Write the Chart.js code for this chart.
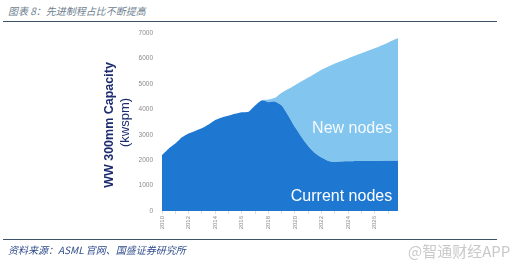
<!DOCTYPE html>
<html>
<head>
<meta charset="utf-8">
<script src="https://cdn.jsdelivr.net/npm/chart.js@4.4.0/dist/chart.umd.min.js"></script>
<style>
  body { margin: 0; background: #fff; width: 527px; height: 269px; overflow: hidden; position: relative; font-family: "Liberation Sans", Arial, sans-serif; }
  #wrap { position: absolute; left: 0; top: 0; width: 527px; height: 269px; }
  .titulo { position: absolute; left: 8px; top: 3px; font-size: 10px; font-style: italic; color: #6f7f90; font-family: "Noto Sans CJK SC", sans-serif; }
  .fuente { position: absolute; left: 8px; top: 242px; font-size: 10px; font-style: italic; color: #2f4c8c; font-family: "Noto Sans CJK SC", sans-serif; }
  .marca { position: absolute; left: 408px; top: 240px; font-size: 15px; color: #c9c9c9; font-family: "Noto Sans CJK SC", sans-serif; }
  .linea { position: absolute; left: 3px; width: 494px; height: 1px; background: #3d5266; }
</style>
</head>
<body>
<div class="titulo">图表 8：先进制程占比不断提高</div>
<div class="linea" style="top:21px"></div>
<div id="wrap"><canvas id="grafico" width="527" height="269"></canvas></div>
<div class="linea" style="top:239px"></div>
<div class="fuente">资料来源：ASML 官网、国盛证券研究所</div>
<div class="marca">@智通财经APP</div>
<script>
// Datos (kwspm)
var anios = [2010, 2010.5, 2011, 2011.5, 2012, 2012.5, 2013, 2013.5, 2014, 2014.5, 2015, 2015.5, 2016, 2016.5, 2017, 2017.5, 2018, 2018.5, 2019, 2019.5, 2020, 2020.5, 2021, 2021.5, 2022, 2022.5, 2023, 2023.5, 2024, 2025, 2026, 2027, 2027.75];
var nodosActuales = [2200, 2450, 2650, 2900, 3050, 3150, 3250, 3400, 3580, 3680, 3750, 3820, 3880, 3900, 4150, 4350, 4280, 4300, 4150, 3750, 3300, 2900, 2550, 2280, 2100, 1970, 1930, 1950, 1960, 1970, 1970, 1980, 1980];
var capacidadTotal = [2200, 2450, 2650, 2900, 3050, 3150, 3250, 3400, 3580, 3680, 3750, 3820, 3880, 3900, 4150, 4350, 4380, 4450, 4650, 4800, 4950, 5100, 5250, 5400, 5550, 5680, 5800, 5900, 6000, 6200, 6400, 6620, 6800];
var ticksY = [0, 1000, 2000, 3000, 4000, 5000, 6000, 7000];
var etiquetasX = [2010, 2012, 2014, 2016, 2018, 2020, 2022, 2024, 2026];

var puntos = function (serie) {
  return anios.map(function (a, i) { return { x: a, y: serie[i] }; });
};

// Textos dentro del grafico y titulo del eje
const textosPlugin = {
  id: "textos",
  afterDatasetsDraw(chart) {
    const ctx = chart.ctx;
    const sx = chart.scales.x;
    const sy = chart.scales.y;
    ctx.save();
    ctx.fillStyle = "#ffffff";
    ctx.font = "16px 'Liberation Sans', Arial, sans-serif";
    ctx.textAlign = "center";
    ctx.textBaseline = "middle";
    ctx.globalAlpha = 0.92;
    ctx.fillText("New nodes", sx.getPixelForValue(2024.3), sy.getPixelForValue(3225));
    ctx.globalAlpha = 1;
    ctx.fillText("Current nodes", sx.getPixelForValue(2023.5), sy.getPixelForValue(550));

    // titulo del eje Y
    ctx.fillStyle = "#1c2c6e";
    ctx.translate(110, 125);
    ctx.rotate(-Math.PI / 2);
    ctx.font = "bold 12.5px 'Liberation Sans', Arial, sans-serif";
    ctx.fillText("WW 300mm Capacity", 0, 0);
    ctx.font = "13px 'Liberation Sans', Arial, sans-serif";
    ctx.fillText("(kwspm)", 2.5, 15);
    ctx.restore();
  },
};

new Chart(document.getElementById("grafico"), {
  type: "line",
  data: {
    datasets: [
      {
        label: "Current nodes",
        data: puntos(nodosActuales),
        backgroundColor: "#1e78d2",
        borderWidth: 0,
        pointRadius: 0,
        fill: "origin",
        tension: 0.2,
      },
      {
        label: "New nodes",
        data: puntos(capacidadTotal),
        backgroundColor: "#82c5ee",
        borderWidth: 0,
        pointRadius: 0,
        fill: "-1",
        tension: 0.2,
      },
    ],
  },
  options: {
    responsive: false,
    animation: false,
    devicePixelRatio: 1,
    layout: { padding: { left: 100, right: 129, top: 33, bottom: 38 } },
    plugins: { legend: { display: false }, tooltip: { enabled: false } },
    scales: {
      x: {
        type: "linear",
        min: 2010,
        max: 2027.75,
        border: { display: false },
        grid: { drawOnChartArea: false, drawTicks: true, tickLength: 3, color: "#dddddd" },
        afterFit: (s) => { s.height = 20; },
        afterBuildTicks: (s) => {
          var t = [];
          for (var a = 2010; a <= 2027; a++) t.push({ value: a });
          s.ticks = t;
        },
        ticks: {
          autoSkip: false,
          minRotation: 90,
          maxRotation: 90,
          padding: 2,
          color: "#8a8a8a",
          font: { size: 6 },
          callback: (v) => (etiquetasX.indexOf(v) >= 0 ? String(v) : ""),
        },
      },
      y: {
        min: 0,
        max: 7000,
        border: { display: false },
        grid: { display: false },
        afterFit: (s) => { s.width = 62; },
        afterBuildTicks: (s) => { s.ticks = ticksY.map((v) => ({ value: v })); },
        ticks: { autoSkip: false, padding: 1, color: "#8a8a8a", font: { size: 6.5 }, callback: (v) => String(v) },
      },
    },
  },
  plugins: [textosPlugin],
});
</script>
</body>
</html>
